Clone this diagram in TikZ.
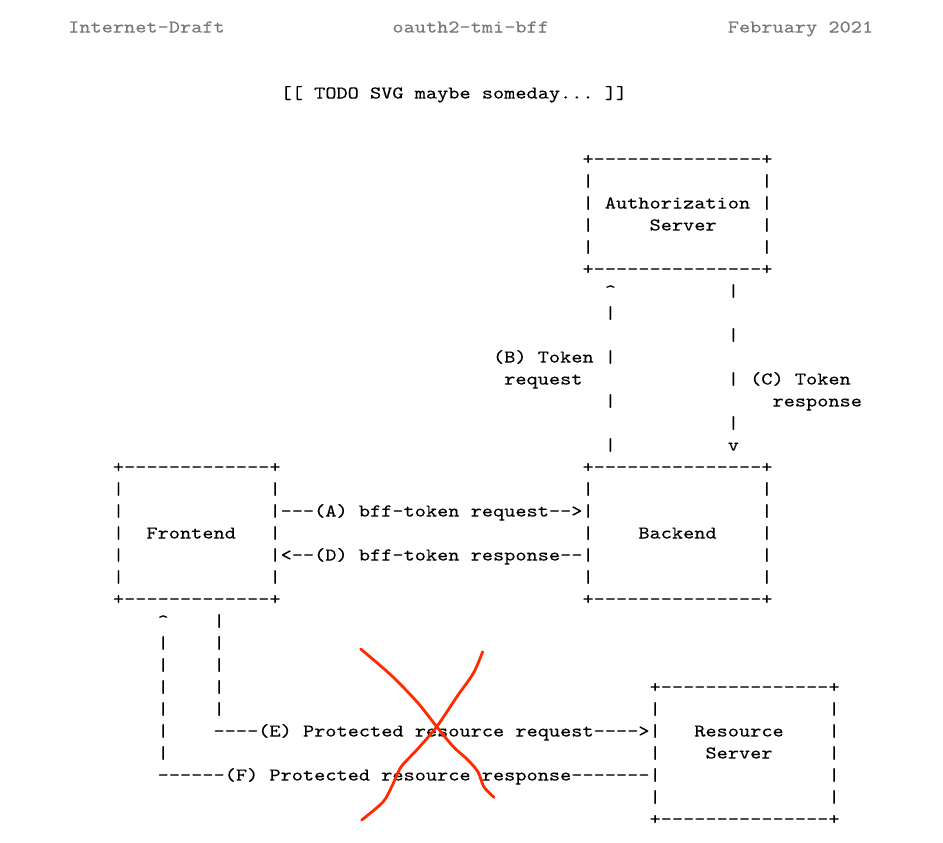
\documentclass[tikz,border=0pt]{standalone}
\usepackage{fontspec}
\setmonofont{lmmono10-regular.otf}[FakeStretch=1.183, FakeBold=0.04]
\definecolor{draftgray}{RGB}{120,120,120}
\definecolor{crossred}{RGB}{255,42,0}
\tikzset{
  art/.style={font=\ttfamily\fontsize{18}{22}\selectfont, anchor=base west,
    inner sep=0pt, yshift=-6.5pt},
  cross/.style={crossred, line width=2.8pt, line cap=round, line join=round},
}

\begin{document}
\begin{tikzpicture}[x=11.18pt, y=-22pt]
    \useasboundingbox (-6.082,-1.182) rectangle (78.265,37.091);

    % page header
    \node [art, draftgray] (hdr-left) at (0,0) {Internet-Draft};
    \node [art, draftgray] (hdr-mid) at (29,0) {oauth2-tmi-bff};
    \node [art, draftgray] (hdr-right) at (59,0) {February 2021};

    % the figure, one node per run of characters (row/column/text)
    \foreach \r/\c/\t in {
      3/19/{[[ TODO SVG maybe someday... ]]},
      6/46/{+---------------+},
      7/46/{|}, 7/62/{|},
      8/46/{| Authorization |},
      9/46/{|}, 9/52/{Server}, 9/62/{|},
      10/46/{|}, 10/62/{|},
      11/46/{+---------------+},
      12/48/{\textasciicircum}, 12/59/{|},
      13/48/{|},
      14/59/{|},
      15/38/{(B) Token |},
      16/39/{request}, 16/59/{| (C) Token},
      17/48/{|}, 17/63/{response},
      18/59/{|},
      19/48/{|}, 19/59/{v},
      20/4/{+-------------+}, 20/46/{+---------------+},
      21/4/{|}, 21/18/{|}, 21/46/{|}, 21/62/{|},
      22/4/{|}, 22/18/{|---(A) bff-token request-->|}, 22/62/{|},
      23/4/{|}, 23/7/{Frontend}, 23/18/{|}, 23/46/{|}, 23/51/{Backend}, 23/62/{|},
      24/4/{|}, 24/18/{|<--(D) bff-token response--|}, 24/62/{|},
      25/4/{|}, 25/18/{|}, 25/46/{|}, 25/62/{|},
      26/4/{+-------------+}, 26/46/{+---------------+},
      27/8/{\textasciicircum}, 27/13/{|},
      28/8/{|}, 28/13/{|},
      29/8/{|}, 29/13/{|},
      30/8/{|}, 30/13/{|}, 30/52/{+---------------+},
      31/8/{|}, 31/13/{|}, 31/52/{|}, 31/68/{|},
      32/8/{|}, 32/13/{----(E) Protected resource request---->|}, 32/56/{Resource}, 32/68/{|},
      33/8/{|}, 33/52/{|}, 33/57/{Server}, 33/68/{|},
      34/8/{------(F) Protected resource response-------|}, 34/68/{|},
      35/52/{|}, 35/68/{|},
      36/52/{+---------------+}}
      \node [art] (m-\r-\c) at (\c,\r) {\t};

    % hand drawn cross
    \begin{scope}[shift={(-6.082,-1.182)}, x=1pt, y=-1pt]
      \draw [cross] plot [smooth, tension=0.5] coordinates {(360.7,649) (392,676)
        (418,703) (436.7,726.7) (453.3,746.7) (468,760) (478,772) (484,787) (494,797.3)};
      \draw [cross] plot [smooth, tension=0.5] coordinates {(482.7,651.7) (473.3,673.3)
        (456.7,697) (436.7,726.7) (416.7,750) (401,767) (392,786) (383,802) (361.7,820)};
    \end{scope}
\end{tikzpicture}
\end{document}
